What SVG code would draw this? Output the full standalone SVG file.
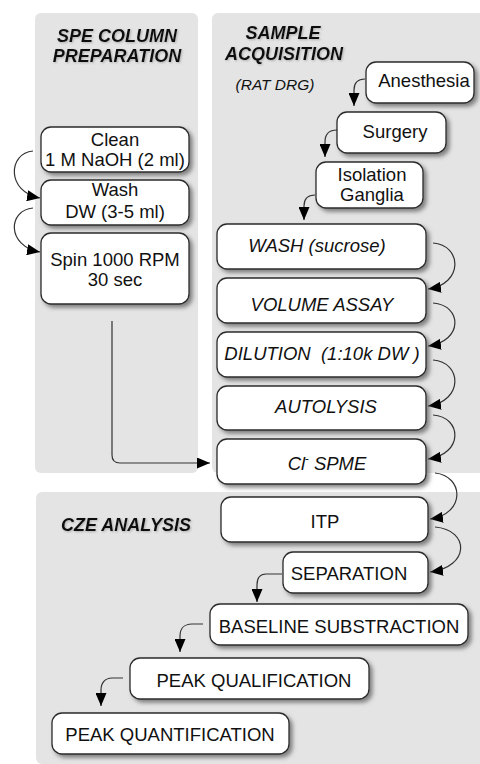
<svg xmlns="http://www.w3.org/2000/svg" width="480" height="764" viewBox="0 0 480 764">
<style>
.panel{fill:#e4e4e4}
.box{fill:#fff;stroke:#2a2a2a;stroke-width:1.3;filter:url(#sh)}
.t{font-family:"Liberation Sans",Arial,sans-serif;font-size:18.5px;fill:#111;text-anchor:middle}
.i{font-style:italic}
.h{font-family:"Liberation Sans",Arial,sans-serif;font-size:18px;font-weight:bold;font-style:italic;fill:#111;text-anchor:middle;filter:url(#hs)}
.c{fill:none;stroke:#333;stroke-width:1.2;marker-end:url(#ah)}
</style>
<defs>
<filter id="sh" x="-10%" y="-20%" width="130%" height="160%">
<feDropShadow dx="3" dy="3" stdDeviation="2" flood-color="#555" flood-opacity="0.7"/>
</filter>
<filter id="hs" x="-10%" y="-30%" width="120%" height="160%">
<feDropShadow dx="1" dy="1" stdDeviation="1.2" flood-color="#777" flood-opacity="0.5"/>
</filter>
<marker id="ah" markerWidth="13" markerHeight="11" refX="13" refY="5.5" orient="auto" markerUnits="userSpaceOnUse">
<path d="M0,0 L13,5.5 L0,11 z" fill="#000"/>
</marker>
</defs>
<g id="panels">
<rect class="panel" x="35" y="13" width="163" height="460" rx="6"/>
<rect class="panel" x="212" y="13" width="272" height="460" rx="6"/>
<rect class="panel" x="36" y="492" width="448" height="272" rx="6"/>
<text class="h" x="117" y="42">SPE COLUMN</text>
<text class="h" x="117" y="62">PREPARATION</text>
<text class="h" x="283" y="39">SAMPLE</text>
<text class="h" x="284" y="60">ACQUISITION</text>
<text class="t i" x="275" y="90" style="font-size:15.5px">(RAT DRG)</text>
<text class="h" x="126" y="531">CZE ANALYSIS</text>
</g>
<g id="connectors">
<path class="c" d="M33,151 C8,153 6,192 40,198"/>
<path class="c" d="M33,208 C8,210 6,246 40,252"/>
<path class="c" d="M112,321 V455 Q112,463 120,463 H210"/>
<path class="c" d="M365,79 C357,79 354,83 354,90 L354,106"/>
<path class="c" d="M337,130 C329,130 325,134 325,142 L325,157"/>
<path class="c" d="M315,195 C307,195 304,199 304,206 L304,220"/>
<path class="c" d="M433,243 C462,245 464,284 428,289"/>
<path class="c" d="M433,303 C462,305 464,341 428,346"/>
<path class="c" d="M433,360 C462,362 464,401 428,406"/>
<path class="c" d="M433,415 C462,417 464,454 428,459"/>
<path class="c" d="M435,473 C464,476 466,514 430,519"/>
<path class="c" d="M435,527 C470,530 470,567 430,572"/>
<path class="c" d="M282,574 L266,574 C260,574 257,578 257,585 L257,602"/>
<path class="c" d="M203,624 L192,624 C184,624 180,629 180,636 L180,652"/>
<path class="c" d="M123,678 L112,678 C105,678 101,683 101,690 L101,706"/>
</g>
<g id="clean"><rect class="box" x="41" y="127" width="148" height="45" rx="10"/><text class="t" x="115" y="146">Clean</text><text class="t" x="115" y="166">1 M NaOH (2 ml)</text></g>
<g id="wash"><rect class="box" x="41" y="180" width="148" height="45" rx="10"/><text class="t" x="115" y="196">Wash</text><text class="t" x="115" y="218">DW (3-5 ml)</text></g>
<g id="spin"><rect class="box" x="41" y="233" width="148" height="71" rx="10"/><text class="t" x="115" y="266">Spin 1000 RPM</text><text class="t" x="115" y="286">30 sec</text></g>
<g id="anesthesia"><rect class="box" x="366" y="62" width="108" height="41" rx="10"/><text class="t" x="424" y="87">Anesthesia</text></g>
<g id="surgery"><rect class="box" x="337" y="112" width="109" height="41" rx="10"/><text class="t" x="395" y="138">Surgery</text></g>
<g id="isolation"><rect class="box" x="316" y="162" width="107" height="46" rx="10"/><text class="t" x="372" y="181">Isolation</text><text class="t" x="372" y="201">Ganglia</text></g>
<g id="wash-sucrose"><rect class="box" x="217" y="224" width="209" height="45" rx="10"/><text class="t i" x="317" y="252">WASH (sucrose)</text></g>
<g id="volume-assay"><rect class="box" x="217" y="278" width="209" height="45" rx="10"/><text class="t i" x="322" y="311">VOLUME ASSAY</text></g>
<g id="dilution"><rect class="box" x="217" y="332" width="209" height="45" rx="10"/><text class="t i" x="322" y="360" style="white-space:pre">DILUTION  (1:10k DW )</text></g>
<g id="autolysis"><rect class="box" x="217" y="386" width="209" height="44" rx="10"/><text class="t i" x="326" y="413">AUTOLYSIS</text></g>
<g id="cl-spme"><rect class="box" x="217" y="439" width="209" height="45" rx="10"/><text class="t i" x="327" y="470">Cl<tspan dy="-8" font-size="11">-</tspan><tspan dy="8"> SPME</tspan></text></g>
<g id="itp"><rect class="box" x="221" y="497" width="207" height="45" rx="10"/><text class="t" x="325" y="528">ITP</text></g>
<g id="separation"><rect class="box" x="283" y="552" width="145" height="41" rx="10"/><text class="t" x="349" y="580">SEPARATION</text></g>
<g id="baseline"><rect class="box" x="210" y="604" width="258" height="41" rx="10"/><text class="t" x="339" y="633">BASELINE SUBSTRACTION</text></g>
<g id="peak-qualification"><rect class="box" x="130" y="658" width="239" height="41" rx="10"/><text class="t" x="254" y="687">PEAK QUALIFICATION</text></g>
<g id="peak-quantification"><rect class="box" x="52" y="713" width="237" height="41" rx="10"/><text class="t" x="170" y="741">PEAK QUANTIFICATION</text></g>
</svg>
